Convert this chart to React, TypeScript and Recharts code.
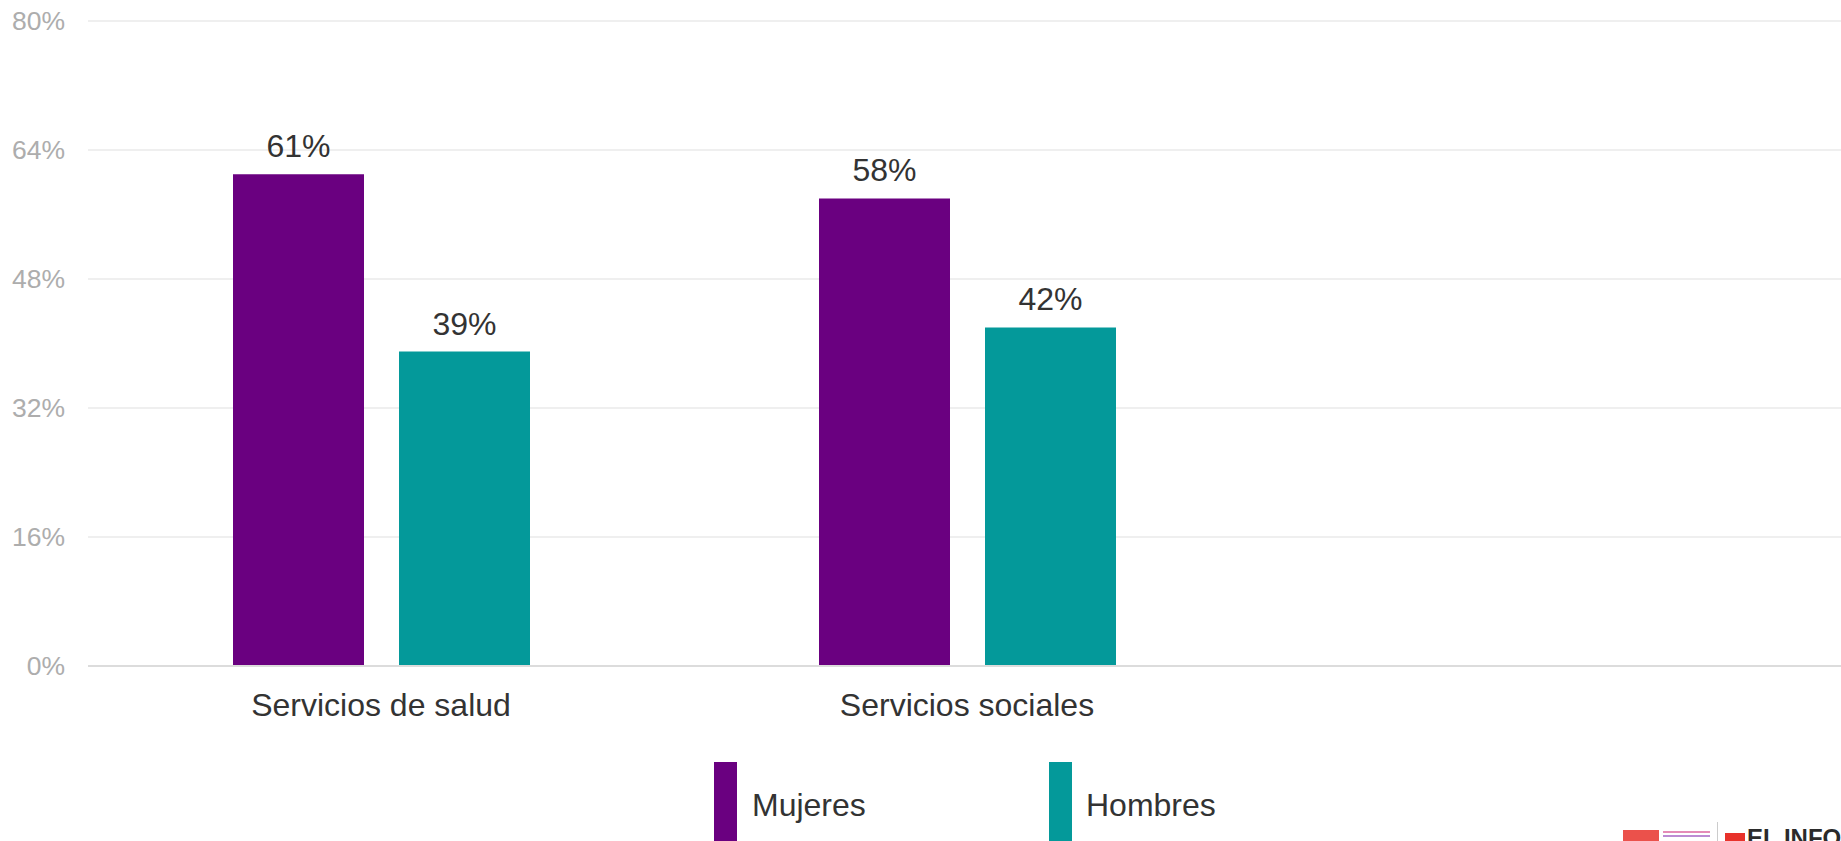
import React from 'react';
import { BarChart, Bar, XAxis, YAxis, CartesianGrid, LabelList } from 'recharts';

const categories = ['Servicios de salud', 'Servicios sociales', ''];
const mujeres: (number | null)[] = [61, 58, null];
const hombres: (number | null)[] = [39, 42, null];
const yTicks = [0, 16, 32, 48, 64, 80];
const seriesNames = ['Mujeres', 'Hombres'];
const seriesColors = ['#6a0080', '#04999a'];

const data = categories.map((c, i) => ({ name: c, mujeres: mujeres[i], hombres: hombres[i] }));

const FONT = '"Liberation Sans", Arial, Helvetica, sans-serif';

const fmt = (v: any) => (v == null ? '' : `${v}%`);

const LegendBlock = () => (
  <div style={{ position: 'absolute', left: 0, top: 762, width: 1841, height: 90, fontFamily: FONT }}>
    {seriesNames.map((n, i) => (
      <div key={n} style={{ position: 'absolute', left: i === 0 ? 714 : 1049, top: 0, height: 90 }}>
        <div style={{ position: 'absolute', left: 0, top: 0, width: 23, height: 90, background: seriesColors[i] }} />
        <div style={{ position: 'absolute', left: i === 0 ? 38 : 37, top: 25, fontSize: 32, lineHeight: '36px', color: '#333', whiteSpace: 'nowrap' }}>{n}</div>
      </div>
    ))}
  </div>
);

export default function App() {
  return (
    <div style={{ position: 'absolute', left: 0, top: 0, width: 1841, height: 841, overflow: 'hidden', background: '#fff', fontFamily: FONT }}>
      <BarChart
        width={1846}
        height={841}
        data={data}
        margin={{ top: 21, right: 0, bottom: 115, left: 0 }}
        barSize={131}
        barGap={35}
      >
        <CartesianGrid vertical={false} stroke="#efefef" strokeWidth={2} />
        <YAxis
          domain={[0, 80]}
          ticks={yTicks}
          width={88}
          axisLine={false}
          tickLine={false}
          tickSize={0}
          tickMargin={23}
          tickFormatter={(v) => `${v}%`}
          tick={{ fontSize: 26.5, fill: '#adadad', fontFamily: FONT }}
        />
        <XAxis
          dataKey="name"
          height={60}
          axisLine={{ stroke: '#dcdcdc', strokeWidth: 2 }}
          tickLine={false}
          tickSize={0}
          tickMargin={27}
          tick={{ fontSize: 32, fill: '#333', fontFamily: FONT }}
          interval={0}
        />
        <Bar dataKey="mujeres" name="Mujeres" fill={seriesColors[0]} isAnimationActive={false}>
          <LabelList dataKey="mujeres" position="top" offset={17} formatter={fmt} style={{ fontSize: 32, fill: '#333', fontFamily: FONT }} />
        </Bar>
        <Bar dataKey="hombres" name="Hombres" fill={seriesColors[1]} isAnimationActive={false}>
          <LabelList dataKey="hombres" position="top" offset={17} formatter={fmt} style={{ fontSize: 32, fill: '#333', fontFamily: FONT }} />
        </Bar>
      </BarChart>
      <LegendBlock />
      <div style={{ position: 'absolute', left: 1623, top: 830, width: 36, height: 11, background: '#e8322b', opacity: 0.85 }} />
      <div style={{ position: 'absolute', left: 1663, top: 831, width: 47, height: 2, background: '#d85a9a', opacity: 0.7 }} />
      <div style={{ position: 'absolute', left: 1663, top: 835, width: 47, height: 2, background: '#a05ac0', opacity: 0.7 }} />
      <div style={{ position: 'absolute', left: 1717, top: 822, width: 1, height: 19, background: '#cccccc' }} />
      <div style={{ position: 'absolute', left: 1725, top: 833, width: 20, height: 8, background: '#e8322b' }} />
      <div style={{ position: 'absolute', left: 1747, top: 826, fontSize: 24, lineHeight: '24px', fontWeight: 'bold', color: '#2b2b2b', whiteSpace: 'nowrap', fontFamily: FONT }}>EL INFORMADOR</div>
    </div>
  );
}
